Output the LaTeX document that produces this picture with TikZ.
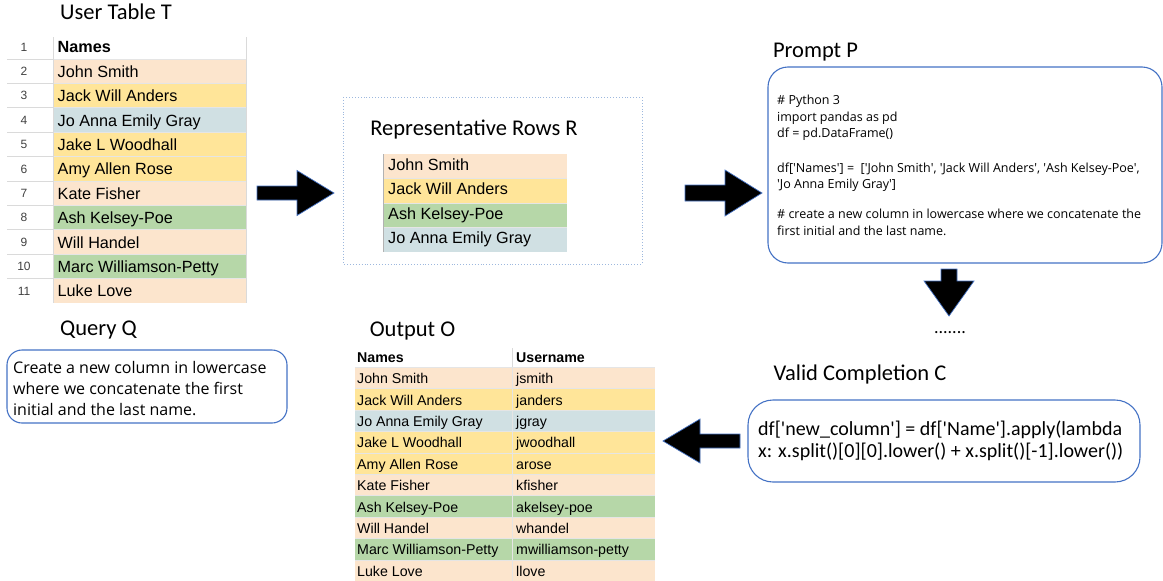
\documentclass[tikz,border=0pt]{standalone}
\usepackage{fontspec}
\setmainfont{Carlito}
\newfontfamily\arialf{Liberation Sans}
\newfontfamily\comicf{Open Sans}
\definecolor{peach}{HTML}{FCE5CD}
\definecolor{yell}{HTML}{FFE599}
\definecolor{slate}{HTML}{D0E0E3}
\definecolor{sage}{HTML}{B6D7A8}
\definecolor{boxblue}{HTML}{4472C4}
\definecolor{dotblue}{HTML}{9DB8DE}
\definecolor{gridg}{HTML}{DADADA}
\begin{document}
\begin{tikzpicture}[x=1pt,y=-1pt,
  title/.style={inner sep=0pt,anchor=base,font=\fontsize{22.5}{26}\selectfont},
  cellT/.style={inner sep=0pt,anchor=base west,font=\arialf\fontsize{16.2}{19}\selectfont},
  cellO/.style={inner sep=0pt,anchor=base west,font=\arialf\fontsize{14.2}{17}\selectfont},
  numT/.style={inner sep=0pt,anchor=base,font=\arialf\fontsize{12}{14}\selectfont,text=black!75},
  roundbox/.style={draw=boxblue,line width=1.1pt},
  blockarrow/.style={fill=black,draw=boxblue,line width=0.7pt,line join=miter},
  sep/.style={draw=black!10,line width=0.8pt}]
\useasboundingbox (0,0) rectangle (1163,581);

% ---------------- User Table T ----------------
\node[title] (tT) at (116,19.5) {User Table T};
\foreach \n/\nm/\c [count=\k from 0] in {2/John Smith/peach,3/Jack Will Anders/yell,4/Jo Anna Emily Gray/slate,5/Jake L Woodhall/yell,6/Amy Allen Rose/yell,7/Kate Fisher/peach,8/Ash Kelsey-Poe/sage,9/Will Handel/peach,10/Marc Williamson-Petty/sage,11/Luke Love/peach}{
  \fill[\c] (53,{59+\k*24.4}) rectangle (246,{83.4+\k*24.4});
  \node[cellT] (T\n) at (57.5,{77.3+\k*24.4}) {\nm};
  \node[numT] (N\n) at (24,{75.5+\k*24.4}) {\n};
}
\foreach \k in {0,...,9}{
  \draw[gridg,line width=0.8pt] (7,{59+\k*24.4}) -- (53,{59+\k*24.4});
  \draw[sep] (53,{59+\k*24.4}) -- (246,{59+\k*24.4});
}
\draw[gridg,line width=0.8pt] (53,37) -- (53,303);
\draw[gridg,line width=0.6pt] (246,37) -- (246,303);
\node[numT] (N1) at (24,51.5) {1};
\node[cellT] (TH) at (57.5,52.3) {\bfseries Names};

% ---------------- Representative rows ----------------
\draw[dotblue,dotted,line width=0.9pt] (343,97) rectangle (642,264);
\node[title] (tR) at (474,135) {Representative Rows R};
\foreach \nm/\c [count=\k from 0] in {John Smith/peach,Jack Will Anders/yell,Ash Kelsey-Poe/sage,Jo Anna Emily Gray/slate}{
  \fill[\c] (383,{154+\k*24.5}) rectangle (567,{178.5+\k*24.5});
  \node[cellT] (R\k) at (388,{170.3+\k*24.5}) {\nm};
}
\foreach \k in {1,2,3}{\draw[sep] (383,{154+\k*24.5}) -- (567,{154+\k*24.5});}
\draw[black!30,line width=0.8pt] (383,154) -- (383,252);

% ---------------- Prompt P ----------------
\node[title] (tP) at (815.5,57) {Prompt P};
\draw[roundbox,rounded corners=20pt] (768,67) rectangle (1162,263);
\node[inner sep=0pt,anchor=base west,align=left,font=\comicf\fontsize{12.5}{16.3}\selectfont] (prompt) at (777,235)
{\# Python 3\\
import pandas as pd\\
df = pd.DataFrame()\\[18.7pt]
df[\textquotesingle Names\textquotesingle] = \ [\textquotesingle John Smith\textquotesingle, \textquotesingle Jack Will Anders\textquotesingle, \textquotesingle Ash Kelsey-Poe\textquotesingle,\\
\textquotesingle Jo Anna Emily Gray\textquotesingle]\\[13.7pt]
\# create a new column in lowercase where we concatenate the\\
first initial and the last name.};
\node[inner sep=0pt,anchor=base,font=\fontsize{18}{20}\selectfont] (dots) at (950,333) {.......};

% ---------------- Query Q ----------------
\node[title] (tQ) at (98.5,335.5) {Query Q};
\draw[roundbox,rounded corners=15pt] (7,350) rectangle (287,423);
\node[inner sep=0pt,anchor=base west,align=left,font=\comicf\fontsize{16}{21}\selectfont] (query) at (13,415)
{Create a new column in lowercase\\
where we concatenate the first\\
initial and the last name.};

% ---------------- Output O ----------------
\node[title] (tO) at (412.5,336) {Output O};
\node[cellO] (OH1) at (357,362.5) {\bfseries Names};
\node[cellO] (OH2) at (516,362.5) {\bfseries Username};
\draw[gridg,line width=0.6pt] (512,348) -- (512,367.4);
\foreach \nm/\un/\c [count=\k from 0] in {John Smith/jsmith/peach,Jack Will Anders/janders/yell,Jo Anna Emily Gray/jgray/slate,Jake L Woodhall/jwoodhall/yell,Amy Allen Rose/arose/yell,Kate Fisher/kfisher/peach,Ash Kelsey-Poe/akelsey-poe/sage,Will Handel/whandel/peach,Marc Williamson-Petty/mwilliamson-petty/sage,Luke Love/llove/peach}{
  \fill[\c] (355,{367.4+\k*21.4}) rectangle (655,{388.8+\k*21.4});
  \node[cellO] (O\k) at (357,{383.6+\k*21.4}) {\nm};
  \node[cellO] (U\k) at (516,{383.6+\k*21.4}) {\un};
}
\foreach \k in {0,...,9}{\draw[sep] (355,{367.4+\k*21.4}) -- (655,{367.4+\k*21.4});}
\draw[sep] (512,367.4) -- (512,581);

% ---------------- Valid Completion C ----------------
\node[title] (tC) at (860,380) {Valid Completion C};
\draw[roundbox,rounded corners=25pt] (748,400) rectangle (1140,482);
\node[inner sep=0pt,anchor=base west,align=left,font=\fontsize{20}{22}\selectfont] (compl) at (758,457.7)
{df[\textquotesingle new\_column\textquotesingle] = df[\textquotesingle Name\textquotesingle].apply(lambda\\
x: x.split()[0][0].lower() + x.split()[-1].lower())};

% ---------------- block arrows ----------------
\coordinate (a1) at (257,193);
\coordinate (a2) at (685,193);
\coordinate (a3) at (949,269);
\coordinate (a4) at (740,441);
\draw[blockarrow,shift={(a1)}] (0,-7) -- (40,-7) -- (40,-22.5) -- (77,0) -- (40,22.5) -- (40,7) -- (0,7) -- cycle;
\draw[blockarrow,shift={(a2)}] (0,-8) -- (40,-8) -- (40,-23) -- (77,0) -- (40,23) -- (40,8) -- (0,8) -- cycle;
\draw[blockarrow,shift={(a3)}] (-8,0) -- (-8,12) -- (-25,12) -- (0,47) -- (25,12) -- (8,12) -- (8,0) -- cycle;
\draw[blockarrow,shift={(a4)}] (0,-7) -- (-40,-7) -- (-40,-22) -- (-77,0) -- (-40,22) -- (-40,7) -- (0,7) -- cycle;
\end{tikzpicture}
\end{document}
